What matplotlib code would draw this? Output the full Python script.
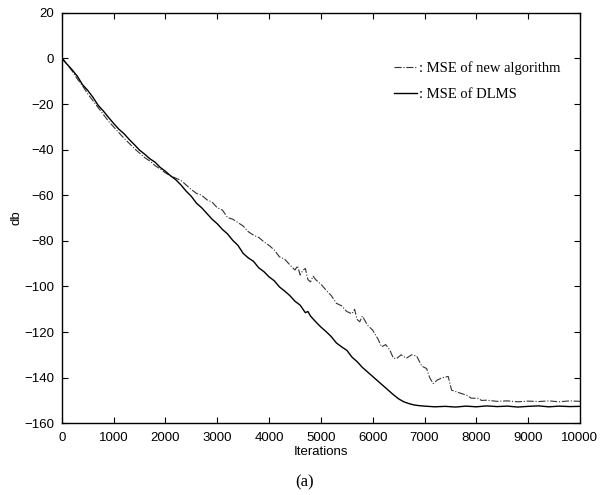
import matplotlib
matplotlib.use("Agg")
import matplotlib.pyplot as plt

# MSE of DLMS (solid)
dlms_iter = [0, 100, 200, 300, 400, 500, 600, 700, 800, 900,
             1000, 1100, 1200, 1300, 1400, 1500, 1600, 1700, 1800, 1900,
             2000, 2100, 2200, 2300, 2400, 2500, 2600, 2700, 2800, 2900,
             3000, 3100, 3200, 3300, 3400, 3500, 3600, 3700, 3800, 3900,
             4000, 4100, 4200, 4300, 4400, 4500, 4600, 4700, 4750, 4800, 4900,
             5000, 5100, 5200, 5300, 5400, 5500, 5600, 5700, 5800, 5900,
             6000, 6100, 6200, 6300, 6400, 6500, 6600, 6700, 6800, 6900,
             7000, 7200, 7400, 7600, 7800, 8000, 8200, 8400, 8600, 8800,
             9000, 9200, 9400, 9600, 9800, 10000]
dlms_db = [0, -2.5, -5, -7.8, -11.5, -14, -17, -20.5, -23, -25.8,
           -28.5, -31, -33, -35.5, -37.8, -40.2, -42, -44, -45.5, -47.8,
           -49.5, -51.5, -53.2, -55.5, -58.2, -60.5, -63.5, -65.5, -68, -70.5,
           -72.5, -75, -77, -79.8, -82, -85.5, -87.5, -89, -91.8, -93.5,
           -95.8, -97.5, -100.2, -102, -104, -106.5, -108.2, -111.5, -111, -113, -115.5,
           -117.8, -119.8, -122, -124.8, -126.5, -128, -131, -133, -135.5, -137.5,
           -139.5, -141.5, -143.5, -145.5, -147.5, -149.3, -150.6, -151.4, -152, -152.3,
           -152.5, -152.8, -152.6, -152.9, -152.5, -152.8, -152.4, -152.7, -152.5, -152.9,
           -152.6, -152.4, -152.8, -152.5, -152.7, -152.6]

# MSE of new algorithm (dash-dot)
new_iter = [0, 100, 200, 300, 400, 500, 600, 700, 800, 900,
            1000, 1100, 1200, 1300, 1400, 1500, 1600, 1700, 1800, 1900,
            2000, 2100, 2200, 2300, 2400, 2500, 2600, 2700, 2800, 2900,
            3000, 3100, 3200, 3300, 3400, 3500, 3600, 3700, 3800, 3900,
            4000, 4100, 4200, 4300, 4400, 4500, 4550, 4600, 4650, 4700, 4750,
            4800, 4850, 4900, 5000, 5100, 5200, 5300, 5400, 5500, 5600,
            5650, 5700, 5750, 5800, 5900, 6000, 6100, 6172, 6250, 6332,
            6400, 6461, 6550, 6650, 6750, 6847, 6950, 7040, 7100, 7168,
            7250, 7350, 7458, 7523, 7650, 7812, 7900, 8037, 8100, 8200,
            8400, 8600, 8800, 9000, 9200, 9400, 9600, 9800, 10000]
new_db = [0.5, -2.5, -5.5, -9, -12, -15.5, -18.5, -21.5, -24.5, -27.5,
          -30, -32.5, -35, -37.2, -39.5, -41.5, -43.5, -45, -47, -48.5,
          -50.2, -51.5, -52.5, -53.5, -55.5, -57.5, -59.2, -60, -62, -63,
          -65.5, -66.5, -69.8, -70.5, -72, -73.5, -76, -77.5, -78.5, -80.4,
          -82, -84, -87, -88, -90.5, -92.8, -91, -95, -93, -92.1, -97,
          -98, -95.5, -97, -99, -101.6, -104, -107.4, -108.5, -111, -112,
          -110, -114.5, -115.5, -113, -117, -119.2, -123, -126.5, -125.5, -128,
          -131.5, -131.6, -130, -131.5, -130, -130.5, -135, -136, -140, -142.6,
          -141, -140, -139.5, -145.5, -146.5, -147.7, -149, -149.1, -150, -149.9,
          -150.4, -150.2, -150.6, -150.3, -150.5, -150.2, -150.6, -150.2, -150.4]

x_ticks = [0, 1000, 2000, 3000, 4000, 5000, 6000, 7000, 8000, 9000, 10000]
y_ticks = [20, 0, -20, -40, -60, -80, -100, -120, -140, -160]

sans = "Liberation Sans"
serif = "Liberation Serif"

fig = plt.figure(figsize=(6.06, 4.95), dpi=100)
ax = fig.add_axes([0.102, 0.145, 0.855, 0.829])

ax.plot(new_iter, new_db, color="#333333", linestyle="-.", linewidth=0.8,
        label=": MSE of new algorithm")
ax.plot(dlms_iter, dlms_db, color="black", linestyle="-", linewidth=1.0,
        label=": MSE of DLMS")

ax.set_xlim(0, 10000)
ax.set_ylim(-160, 20)
ax.set_xticks(x_ticks)
ax.set_yticks(y_ticks)
ax.tick_params(direction="in", top=True, right=True, length=4, width=0.8,
               labelsize=9.5)
ax.tick_params(axis="x", pad=6.5)
ax.tick_params(axis="y", pad=5.5)
for lab in ax.get_xticklabels() + ax.get_yticklabels():
    lab.set_fontfamily(sans)
for s in ax.spines.values():
    s.set_linewidth(1.0)

ax.set_xlabel("Iterations", fontfamily=sans, fontsize=9.5, labelpad=1.5)
ax.set_ylabel("db", fontfamily=sans, fontsize=9.5, labelpad=1)

leg = ax.legend(loc="upper left", bbox_to_anchor=(0.641, 0.882), frameon=False,
                handlelength=1.6, handletextpad=0.1, labelspacing=0.85,
                borderaxespad=0, borderpad=0,
                prop={"family": serif, "size": 10.5})

fig.text(0.503, 0.026, "(a)", ha="center", va="center",
         fontfamily=serif, fontsize=12)

fig.savefig("out.png", dpi=100)
